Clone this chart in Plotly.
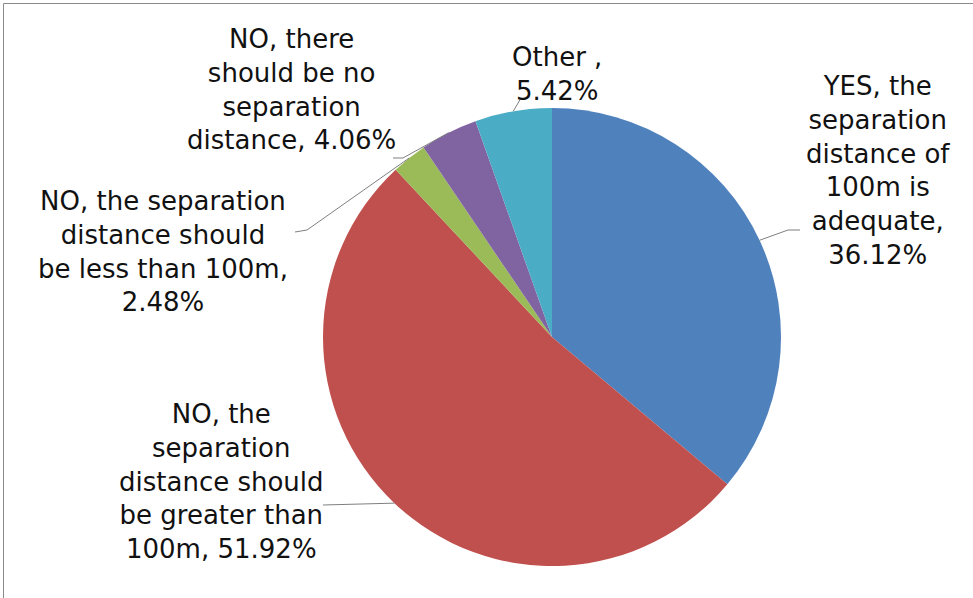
import math
import plotly.graph_objects as go

# ---- data ----
categories = [
    "YES, the separation distance of 100m is adequate",
    "NO, the separation distance should be greater than 100m",
    "NO, the separation distance should be less than 100m",
    "NO, there should be no separation distance",
    "Other",
]
values = [36.12, 51.92, 2.48, 4.06, 5.42]
label_templates = [
    "YES, the<br>separation<br>distance of<br>100m is<br>adequate,<br>{v}%",
    "NO, the<br>separation<br>distance should<br>be greater than<br>100m, {v}%",
    "NO, the separation<br>distance should<br>be less than 100m,<br>{v}%",
    "NO, there<br>should be no<br>separation<br>distance, {v}%",
    "Other ,<br>{v}%",
]

# ---- style / layout ----
colors = ["#4F81BD", "#C0504D", "#9BBB59", "#8064A2", "#4BACC6"]
W, H = 973, 598
CX, CY, R = 552, 337, 229  # pie centre and radius in pixels
label_pos = [(878, 171), (221, 481), (163, 251), (291, 89), (557, 74)]
elbows = [
    [(788, 230), (800, 230)],
    [(323, 505)],
    [(307, 230), (295, 232)],
    [(403, 158), (393, 158)],
    [(521, 98)],
]
FONT = dict(family="DejaVu Sans", size=26, color="#111111")


def px(x):
    return x / W


def py(y):
    return 1 - y / H


fig = go.Figure(
    go.Pie(
        labels=categories,
        values=values,
        sort=False,
        direction="clockwise",
        rotation=0,
        textinfo="none",
        marker=dict(colors=colors, line=dict(width=0)),
        showlegend=False,
        domain=dict(x=[px(CX - R), px(CX + R)], y=[py(CY + R), py(CY - R)]),
    )
)

total = sum(values)
cum = 0.0
shapes = []
annotations = []
for i, v in enumerate(values):
    mid = (cum + v / 2) / total
    cum += v
    th = 2 * math.pi * mid
    ex = CX + R * math.sin(th)
    ey = CY - R * math.cos(th)
    pts = [(ex, ey)] + elbows[i]
    path = "M " + " L ".join(f"{px(x):.5f},{py(y):.5f}" for x, y in pts)
    shapes.append(dict(type="path", path=path, xref="paper", yref="paper",
                       line=dict(color="#7f7f7f", width=1)))
    lx, ly = label_pos[i]
    annotations.append(dict(
        text=label_templates[i].format(v=f"{v:.2f}"),
        x=px(lx), y=py(ly), xref="paper", yref="paper",
        xanchor="center", yanchor="middle", align="center",
        showarrow=False, font=FONT,
    ))

# chart border (left and top edges visible)
shapes.append(dict(type="rect", xref="paper", yref="paper",
                   x0=px(3.5), y0=py(H + 20), x1=px(W + 20), y1=py(3.5),
                   line=dict(color="#8a8a8a", width=1)))

fig.update_layout(
    width=W, height=H,
    margin=dict(l=0, r=0, t=0, b=0),
    paper_bgcolor="white", plot_bgcolor="white",
    shapes=shapes, annotations=annotations,
)

fig.write_html(
    "out.html",
    config={"displayModeBar": False},
    post_script="document.body.style.margin='0';document.body.style.overflow='hidden';",
)
